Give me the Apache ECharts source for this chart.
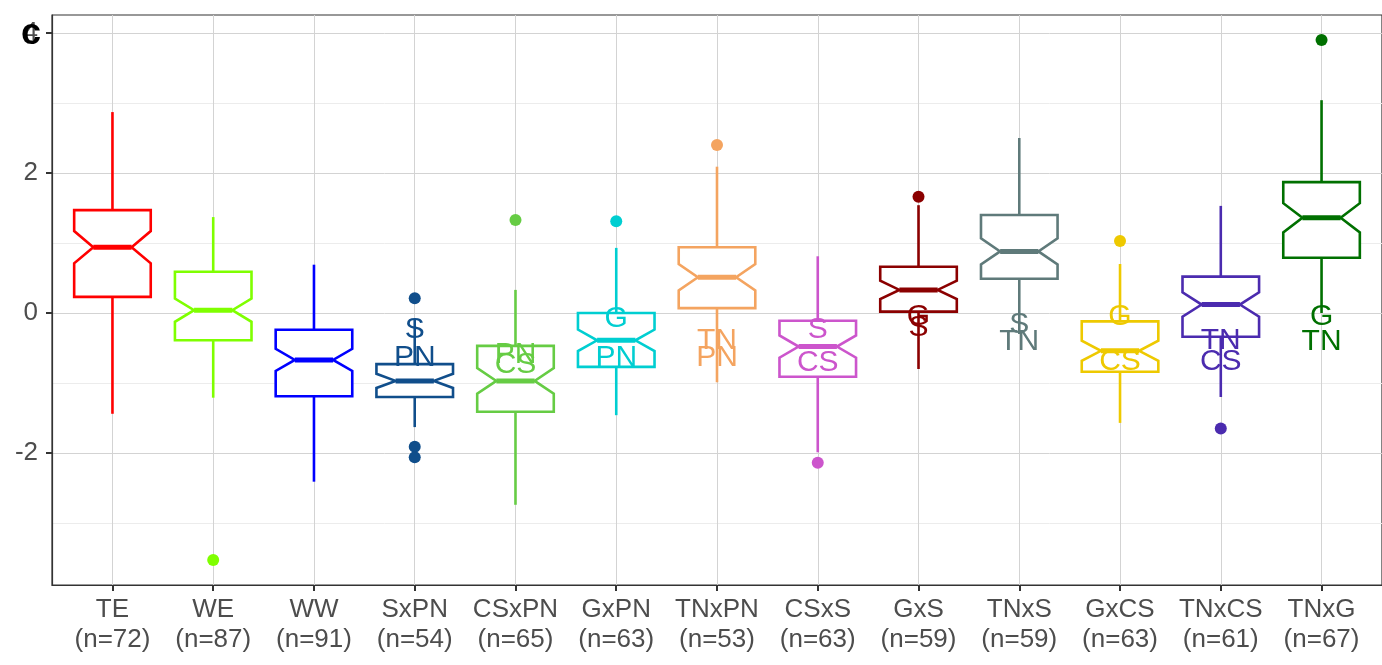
<!DOCTYPE html>
<html>
<head>
<meta charset="utf-8">
<script src="https://cdn.jsdelivr.net/npm/echarts@6/dist/echarts.min.js"></script>
<style>
html,body{margin:0;padding:0;background:#fff;}
#chart{width:1382px;height:665px;}
</style>
</head>
<body>
<div id="chart"></div>
<script>
const categories = ['TE','WE','WW','SxPN','CSxPN','GxPN','TNxPN','CSxS','GxS','TNxS','GxCS','TNxCS','TNxG'];
const counts = [72,87,91,54,65,63,53,63,59,59,63,61,67];
const whiskerLow  = [-1.44,-1.21,-2.41,-1.63,-2.74,-1.46,-0.99,-1.99,-0.80,-0.30,-1.57,-1.20,0.00];
const q1          = [0.23,-0.39,-1.19,-1.20,-1.41,-0.77,0.07,-0.91,0.02,0.49,-0.84,-0.34,0.79];
const medians     = [0.94,0.04,-0.67,-0.97,-0.97,-0.39,0.51,-0.48,0.33,0.88,-0.54,0.12,1.36];
const q3          = [1.47,0.59,-0.24,-0.73,-0.47,0.00,0.94,-0.11,0.66,1.40,-0.12,0.52,1.87];
const whiskerHigh = [2.87,1.37,0.69,-0.10,0.33,0.93,2.09,0.81,1.54,2.50,0.70,1.53,3.04];
// outliers: [category name, value]
const outliers = [
  ['WE',-3.53],['SxPN',0.21],['SxPN',-1.91],['SxPN',-2.06],['CSxPN',1.33],['GxPN',1.31],
  ['TNxPN',2.40],['CSxS',-2.14],['GxS',1.66],['GxCS',1.03],['TNxCS',-1.65],['TNxG',3.90]
];
// significance letters: [category name, value, text]
const letters = [
  ['SxPN',-0.24,'S'],['SxPN',-0.64,'PN'],
  ['CSxPN',-0.60,'PN'],['CSxPN',-0.74,'CS'],
  ['GxPN',-0.08,'G'],['GxPN',-0.64,'PN'],
  ['TNxPN',-0.39,'TN'],['TNxPN',-0.64,'PN'],
  ['CSxS',-0.24,'S'],['CSxS',-0.71,'CS'],
  ['GxS',-0.05,'G'],['GxS',-0.21,'S'],
  ['TNxS',-0.17,'S'],['TNxS',-0.41,'TN'],
  ['GxCS',-0.06,'G'],['GxCS',-0.70,'CS'],
  ['TNxCS',-0.39,'TN'],['TNxCS',-0.70,'CS'],
  ['TNxG',-0.06,'G'],['TNxG',-0.41,'TN']
];
const yTicks = [-2,0,2,4];
const yMinor = [-3,-1,1,3];
const panelLabel = 'c';

const colors = ['#FF0000','#7FFF00','#0000FF','#104E8B','#66CC44','#00CED1','#F4A460','#CC55CC','#8B0000','#5F7A7A','#EEC900','#4B2BAF','#007000'];

const FONT = 'Liberation Sans, Arial, sans-serif';
const catIdx = name => categories.indexOf(name) + 1;

const boxData = categories.map((c,i)=>{
  const nh = 1.58*(q3[i]-q1[i])/Math.sqrt(counts[i]);
  return [i+1, whiskerLow[i], q1[i], medians[i], q3[i], whiskerHigh[i], nh];
});

function renderBox(params, api){
  const i = params.dataIndex;
  const x = api.value(0);
  const wl = api.value(1), a = api.value(2), m = api.value(3), b = api.value(4), wh = api.value(5), nh = api.value(6);
  const hw = api.size([0.76,0])[0]/2;
  const P = v => api.coord([x, v]);
  const cx = P(m)[0];
  const yq1 = P(a)[1], yq3 = P(b)[1], ym = P(m)[1];
  const yn1 = P(m+nh)[1], yn2 = P(m-nh)[1];
  const color = colors[i];
  const lw = 2.6;
  return {
    type:'group',
    children:[
      {type:'line', shape:{x1:cx,y1:P(wh)[1],x2:cx,y2:yq3}, style:{stroke:color,lineWidth:lw}},
      {type:'line', shape:{x1:cx,y1:yq1,x2:cx,y2:P(wl)[1]}, style:{stroke:color,lineWidth:lw}},
      {type:'polygon', shape:{points:[
        [cx-hw,yq3],[cx+hw,yq3],[cx+hw,yn1],[cx+hw/2,ym],[cx+hw,yn2],[cx+hw,yq1],
        [cx-hw,yq1],[cx-hw,yn2],[cx-hw/2,ym],[cx-hw,yn1]
      ]}, style:{fill:'#ffffff',stroke:color,lineWidth:lw,lineJoin:'miter'}},
      {type:'line', shape:{x1:cx-hw/2,y1:ym,x2:cx+hw/2,y2:ym}, style:{stroke:color,lineWidth:5}}
    ]
  };
}

function renderLetter(params, api){
  const p = api.coord([api.value(0), api.value(1)]);
  const k = api.value(0)-1;
  return {
    type:'text',
    x:p[0], y:p[1],
    style:{text: letters[params.dataIndex][2], fill: colors[k], font: '30px '+FONT, align:'center', verticalAlign:'middle'}
  };
}

const gridLines = [];
yMinor.forEach(v=>gridLines.push({yAxis:v, lineStyle:{color:'#ececec',width:1,type:'solid'}}));
yTicks.forEach(v=>gridLines.push({yAxis:v, lineStyle:{color:'#d3d3d3',width:1,type:'solid'}}));
categories.forEach((c,i)=>gridLines.push({xAxis:i+1, lineStyle:{color:'#d3d3d3',width:1,type:'solid'}}));

const option = {
  animation:false,
  backgroundColor:'#ffffff',
  grid:{left:52, right:-1, top:15, bottom:80, show:true, borderColor:'#333333', borderWidth:1.2, backgroundColor:'transparent'},
  xAxis:{
    type:'value', min:0.4, max:13.6,
    splitLine:{show:false},
    axisLine:{show:true, onZero:false, lineStyle:{color:'#333333',width:1.2}},
    axisTick:{show:true, length:6, lineStyle:{color:'#333333',width:2}, customValues: categories.map((c,i)=>i+1)},
    axisLabel:{
      customValues: categories.map((c,i)=>i+1),
      formatter: v => { const i = Math.round(v)-1; return categories[i] + '\n(n=' + counts[i] + ')'; },
      color:'#4D4D4D', fontSize:26, lineHeight:30, fontFamily:FONT, margin:10
    }
  },
  yAxis:{
    type:'value', min:-3.886, max:4.257,
    splitLine:{show:false},
    axisLine:{show:true, onZero:false, lineStyle:{color:'#333333',width:1.2}},
    axisTick:{show:true, length:6, lineStyle:{color:'#333333',width:2}, customValues: yTicks},
    axisLabel:{customValues: yTicks, color:'#4D4D4D', fontSize:26, fontFamily:FONT, margin:14}
  },
  series:[
    {type:'scatter', data:[], z:0, silent:true,
     markLine:{silent:true, z:0, symbol:['none','none'], label:{show:false}, animation:false, data:gridLines}},
    {type:'custom', renderItem:renderBox, data:boxData, z:3, encode:{x:0,y:[1,5]}},
    {type:'scatter', z:4, symbolSize:12,
     data: outliers.map(o=>({value:[catIdx(o[0]), o[1]], itemStyle:{color:colors[catIdx(o[0])-1], opacity:1}}))},
    {type:'custom', renderItem:renderLetter, z:5,
     data: letters.map(l=>[catIdx(l[0]), l[1]]), encode:{x:0,y:1}}
  ],
  graphic:[
    {type:'text', left:21, top:16, z:100,
     style:{text:panelLabel, fill:'#000000', font:'bold 36px '+FONT}}
  ]
};

const chart = echarts.init(document.getElementById('chart'), null, {renderer:'canvas'});
chart.setOption(option);
</script>
</body>
</html>
